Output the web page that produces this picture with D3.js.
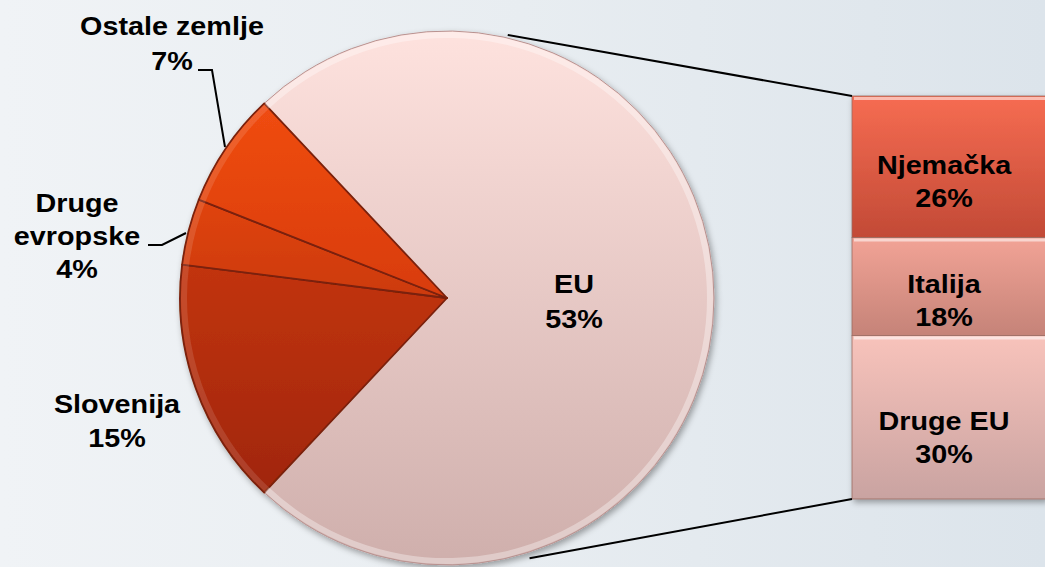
<!DOCTYPE html>
<html lang="hr">
  <head>
    <meta charset="utf-8" />
    <title>EU pie of bar</title>
    <script src="https://d3js.org/d3.v7.min.js"></script>
    <style>
      body {
        margin: 0;
        background-color: #e9eef2;
        overflow: hidden;
      }
      text {
        font-family: "Liberation Sans", Arial, sans-serif;
        font-weight: bold;
        font-size: 25px;
        fill: #000;
      }
    </style>
  </head>
  <body>
    <div id="chart"></div>

    <script>
      // pie data (EU slice is broken out into the bar on the right)
      const pieCategories = ["EU", "Slovenija", "Druge evropske", "Ostale zemlje"];
      const pieValues = [74, 15, 4, 7];
      const pieLabels = ["53%", "15%", "4%", "7%"];

      // bar data (split of the EU slice)
      const barCategories = ["Njemačka", "Italija", "Druge EU"];
      const barValues = [26, 18, 30];
      const barLabels = ["26%", "18%", "30%"];

      const width = 1045,
        height = 567;
      const cx = 447,
        cy = 298,
        r = 267;

      const svg = d3
        .select("#chart")
        .append("svg")
        .attr("width", width)
        .attr("height", height);

      const defs = svg.append("defs");

      // background
      const bg = defs
        .append("linearGradient")
        .attr("id", "bg")
        .attr("x1", 0)
        .attr("x2", 1)
        .attr("y1", 0)
        .attr("y2", 0);
      bg.append("stop").attr("offset", 0).attr("stop-color", "#f0f3f6");
      bg.append("stop").attr("offset", 0.5).attr("stop-color", "#e8edf1");
      bg.append("stop").attr("offset", 1).attr("stop-color", "#dce4eb");
      svg
        .append("rect")
        .attr("width", width)
        .attr("height", height)
        .attr("fill", "url(#bg)");

      function vGrad(id, top, bottom) {
        const g = defs
          .append("linearGradient")
          .attr("id", id)
          .attr("x1", 0)
          .attr("x2", 0)
          .attr("y1", 0)
          .attr("y2", 1);
        g.append("stop").attr("offset", 0).attr("stop-color", top);
        g.append("stop").attr("offset", 1).attr("stop-color", bottom);
      }

      const pieColors = [
        ["#fee2de", "#cfafac"],
        ["#c2340a", "#a02607"],
        ["#e0440f", "#cc3a0a"],
        ["#f04c12", "#d83c0a"],
      ];
      pieColors.forEach((c, i) => vGrad("pie" + i, c[0], c[1]));

      const barColors = [
        ["#f66c52", "#c24a36"],
        ["#f2a396", "#c58378"],
        ["#f8c3bb", "#c9a3a1"],
      ];
      barColors.forEach((c, i) => vGrad("bar" + i, c[0], c[1]));

      const shadow = defs.append("filter").attr("id", "shadow")
        .attr("x", "-10%").attr("y", "-10%").attr("width", "120%").attr("height", "120%");
      shadow
        .append("feDropShadow")
        .attr("dx", 2)
        .attr("dy", 3)
        .attr("stdDeviation", 3)
        .attr("flood-color", "#000")
        .attr("flood-opacity", 0.35);

      const toRad = (deg) => (deg * Math.PI) / 180;
      const startDeg = -43.2;

      const pie = d3
        .pie()
        .sort(null)
        .value((d) => d)
        .startAngle(toRad(startDeg))
        .endAngle(toRad(startDeg) + 2 * Math.PI);
      const arcs = pie(pieValues);

      const arc = d3.arc().innerRadius(0).outerRadius(r);
      const bevel = d3.arc().innerRadius(r - 7).outerRadius(r - 1);

      const pieG = svg
        .append("g")
        .attr("transform", `translate(${cx},${cy})`)
        .attr("filter", "url(#shadow)");

      pieG
        .selectAll("path.slice")
        .data(arcs)
        .join("path")
        .attr("class", "slice")
        .attr("d", arc)
        .attr("fill", (d, i) => `url(#pie${i})`)
        .attr("stroke", (d, i) => (i === 0 ? "#b89290" : "#7a2008"))
        .attr("stroke-width", (d, i) => (i === 0 ? 1 : 1.8))
        .attr("stroke-linejoin", "round");

      // soft bevel highlight on the rim
      svg
        .append("g")
        .attr("transform", `translate(${cx},${cy})`)
        .selectAll("path")
        .data(arcs)
        .join("path")
        .attr("d", bevel)
        .attr("fill", "#fff")
        .attr("opacity", (d, i) => (i === 0 ? 0.35 : 0.12));

      // bar of EU split
      const barX = 852,
        barW = 194;
      const y = d3
        .scaleLinear()
        .domain([0, d3.sum(barValues)])
        .range([96, 499]);
      const cum = d3.cumsum([0, ...barValues]);

      const barG = svg.append("g").attr("filter", "url(#shadow)");
      barG
        .selectAll("rect")
        .data(barValues)
        .join("rect")
        .attr("x", barX)
        .attr("y", (d, i) => y(cum[i]))
        .attr("width", barW)
        .attr("height", (d, i) => y(cum[i + 1]) - y(cum[i]))
        .attr("fill", (d, i) => `url(#bar${i})`)
        .attr("stroke", "#9a6a60")
        .attr("stroke-width", 0.8);
      svg
        .append("g")
        .selectAll("line")
        .data(barValues)
        .join("line")
        .attr("x1", barX + 2)
        .attr("x2", barX + barW)
        .attr("y1", (d, i) => y(cum[i]) + 2.5)
        .attr("y2", (d, i) => y(cum[i]) + 2.5)
        .attr("stroke", "#fff")
        .attr("stroke-opacity", 0.55)
        .attr("stroke-width", 3);

      // connector lines from EU slice to bar
      const rimPt = (deg, rr) => [
        cx + rr * Math.sin(toRad(deg)),
        cy - rr * Math.cos(toRad(deg)),
      ];
      const pTop = rimPt(13, r + 3);
      const pBot = rimPt(162.4, r + 6);
      svg
        .append("path")
        .attr("d", d3.line()([pTop, [barX, y(0)]]))
        .attr("stroke", "#000")
        .attr("stroke-width", 2)
        .attr("fill", "none");
      svg
        .append("path")
        .attr("d", d3.line()([pBot, [barX, y(d3.sum(barValues))]]))
        .attr("stroke", "#000")
        .attr("stroke-width", 2)
        .attr("fill", "none");

      // leader lines for the small slices
      const leaders = [
        [[198, 70], [212, 70], [225, 147]],
        [[148, 245], [162, 245], [186, 233]],
      ];
      svg
        .selectAll("path.leader")
        .data(leaders)
        .join("path")
        .attr("class", "leader")
        .attr("d", (d) => d3.line()(d))
        .attr("stroke", "#000")
        .attr("stroke-width", 2)
        .attr("fill", "none");

      // labels
      function label(x, yBase, lines, gap) {
        const g = svg
          .append("g")
          .attr("transform", `translate(${x},${yBase}) scale(1.15,1)`);
        g.append("text")
          .attr("text-anchor", "middle")
          .selectAll("tspan")
          .data(lines)
          .join("tspan")
          .attr("x", 0)
          .attr("y", (d, i) => i * gap)
          .text((d) => d);
      }

      label(574, 293, [pieCategories[0], pieLabels[0]], 35);
      label(117, 413, [pieCategories[1], pieLabels[1]], 34);
      label(77, 212, ["Druge", "evropske", pieLabels[2]], 33);
      label(172, 35, [pieCategories[3], pieLabels[3]], 35);

      const barLabelBase = [174, 293, 430];
      barCategories.forEach((c, i) =>
        label(barX + barW / 2 - 5, barLabelBase[i], [c, barLabels[i]], 33)
      );
    </script>
  </body>
</html>
